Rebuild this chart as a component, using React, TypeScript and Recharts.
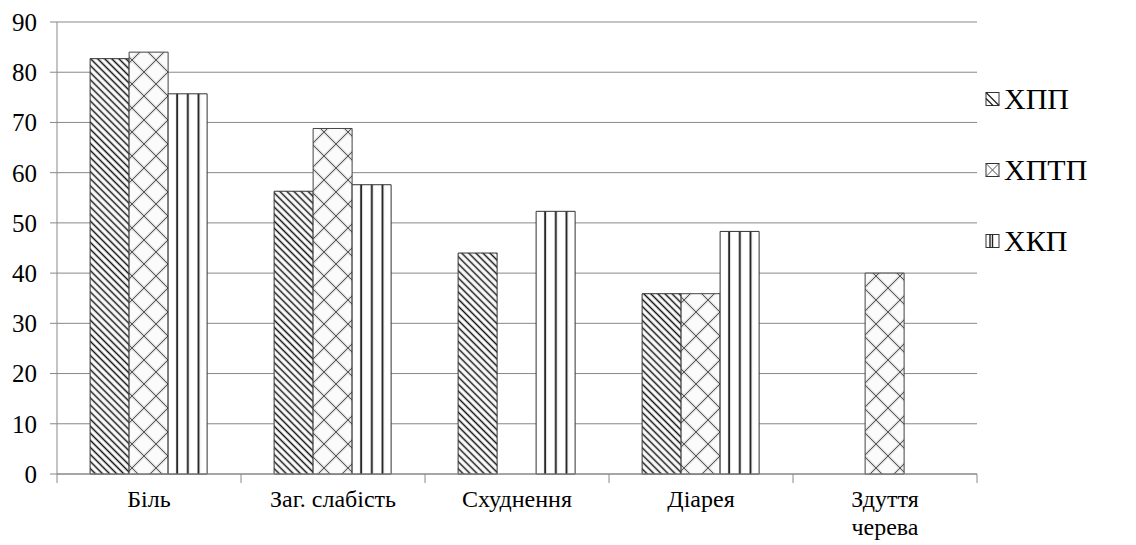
import React from 'react';
import { BarChart, Bar, XAxis, YAxis, CartesianGrid } from 'recharts';

const categories = ['Біль', 'Заг. слабість', 'Схуднення', 'Діарея', 'Здуття\nчерева'];
const seriesNames = ['ХПП', 'ХПТП', 'ХКП'];
const hpp = [82.7, 56.3, 44.0, 35.9, 0];
const hptp = [84.0, 68.8, 0, 35.9, 40.0];
const hkp = [75.7, 57.6, 52.3, 48.3, 0];
const yTicks = [0, 10, 20, 30, 40, 50, 60, 70, 80, 90];

const data = categories.map((name, i) => ({ name, hpp: hpp[i], hptp: hptp[i], hkp: hkp[i] }));

const FONT = '"Liberation Serif", "Liberation Sans", sans-serif';

const XTick = (props: any) => {
  const { x, y, payload, index, visibleTicksCount } = props;
  const off = payload && payload.offset != null ? payload.offset : 92;
  const lines = String(payload.value).split('\n');
  const last = index === (visibleTicksCount ?? 5) - 1;
  return (
    <g>
      <line x1={x - off} x2={x - off} y1={y} y2={y + 9} stroke="#888" strokeWidth={1} />
      {last && <line x1={x + off} x2={x + off} y1={y} y2={y + 9} stroke="#888" strokeWidth={1} />}
      <text x={x} y={y + 33} textAnchor="middle" fontFamily={FONT} fontSize={24} fill="#000">
        {lines.map((l, i) => (
          <tspan key={i} x={x} dy={i === 0 ? 0 : 28}>{l}</tspan>
        ))}
      </text>
    </g>
  );
};

const LegendOverlay = () => {
  const rows = [
    { name: seriesNames[0], y: 99, kind: 'diag' },
    { name: seriesNames[1], y: 170, kind: 'cross' },
    { name: seriesNames[2], y: 241, kind: 'vert' },
  ];
  const mx = 986;
  const s = 13;
  return (
    <svg width={1136} height={545} style={{ position: 'absolute', left: 0, top: 0, pointerEvents: 'none' }}>
      {rows.map((r) => {
        const top = r.y - s / 2;
        return (
          <g key={r.name}>
            <rect x={mx} y={top} width={s} height={s} fill="#fff" stroke="#333" strokeWidth={1} />
            {r.kind === 'diag' && (
              <g stroke="#222" strokeWidth={1.2}>
                <line x1={mx} y1={top} x2={mx + s} y2={top + s} />
                <line x1={mx} y1={top + 6} x2={mx + s - 6} y2={top + s} />
              </g>
            )}
            {r.kind === 'cross' && (
              <g stroke="#555" strokeWidth={1}>
                <line x1={mx} y1={top} x2={mx + s} y2={top + s} />
                <line x1={mx + s} y1={top} x2={mx} y2={top + s} />
              </g>
            )}
            {r.kind === 'vert' && (
              <g stroke="#222" strokeWidth={1.4}>
                <line x1={mx + 4} y1={top} x2={mx + 4} y2={top + s} />
                <line x1={mx + 6.5} y1={top} x2={mx + 6.5} y2={top + s} />
              </g>
            )}
            <text x={mx + 18} y={r.y + 10} fontFamily={FONT} fontSize={30} fill="#000">{r.name}</text>
          </g>
        );
      })}
    </svg>
  );
};

export default function App() {
  return (
    <div style={{ position: 'absolute', left: 0, top: 0, width: 1136, height: 545, background: '#fff' }}>
      <BarChart
        width={1136}
        height={545}
        data={data}
        margin={{ top: 22, right: 159, bottom: 0, left: 0 }}
        barCategoryGap="18%"
        barGap={0}
      >
        <defs>
          <pattern id="pDiag" patternUnits="userSpaceOnUse" width={5} height={5} patternTransform="rotate(-45)">
            <rect width={5} height={5} fill="#fff" />
            <line x1={2.5} y1={0} x2={2.5} y2={5} stroke="#111" strokeWidth={1.5} />
          </pattern>
          <pattern id="pCross" patternUnits="userSpaceOnUse" width={24} height={24}>
            <rect width={24} height={24} fill="#fbfbfb" />
            <path d="M0,0 L24,24 M24,0 L0,24" stroke="#d8d8d8" strokeWidth={3} />
            <path d="M0,0 L24,24 M24,0 L0,24" stroke="#555" strokeWidth={1} />
          </pattern>
          <pattern id="pVert" patternUnits="objectBoundingBox" x={0} y={0} width={0.275} height={1}>
            <rect width={20} height={600} fill="#fff" />
            <line x1={9} y1={0} x2={9} y2={600} stroke="#111" strokeWidth={1.8} />
          </pattern>
        </defs>
        <CartesianGrid vertical={false} stroke="#888" strokeWidth={1} />
        <XAxis
          dataKey="name"
          height={71}
          interval={0}
          tickSize={0}
          tickMargin={0}
          tickLine={false}
          axisLine={{ stroke: '#888' }}
          tick={<XTick />}
        />
        <YAxis
          width={57}
          domain={[0, 90]}
          ticks={yTicks}
          interval={0}
          tickSize={7}
          tickMargin={13}
          tickLine={{ stroke: '#888' }}
          axisLine={{ stroke: '#888' }}
          tick={{ fontSize: 25, fill: '#000', fontFamily: FONT }}
        />
        <Bar dataKey="hpp" name={seriesNames[0]} fill="url(#pDiag)" stroke="#333" strokeWidth={1} isAnimationActive={false} />
        <Bar dataKey="hptp" name={seriesNames[1]} fill="url(#pCross)" stroke="#444" strokeWidth={1} isAnimationActive={false} />
        <Bar dataKey="hkp" name={seriesNames[2]} fill="url(#pVert)" stroke="#333" strokeWidth={1} isAnimationActive={false} />
      </BarChart>
      <LegendOverlay />
    </div>
  );
}
